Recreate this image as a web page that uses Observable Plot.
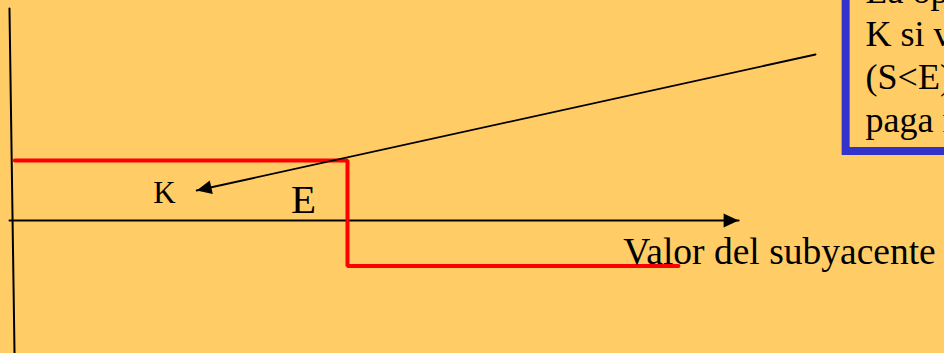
<!DOCTYPE html>
<html><head><meta charset="utf-8">
<script src="https://cdn.jsdelivr.net/npm/d3@7"></script>
<script src="https://cdn.jsdelivr.net/npm/@observablehq/plot@0.6"></script>
<style>
html,body{margin:0;padding:0;background:#FFCC66;overflow:hidden}
svg{display:block;overflow:hidden}
</style>
</head><body><div id="chart"></div>
<script>
// Underlying value (strike E = 100) and payoff level (K = 60 units)
const payoffS = [1, 100, 100, 198.5];
const payoffV = [60, 60, -45.5, -45.5];
// Axes (underlying axis and payoff axis)
const xAxisS = [-0.6, 216.4];
const xAxisV = [0, 0];
const yAxisS = [-0.6, 0.9];
const yAxisV = [212, -133];
// Callout arrow from the note to K
const calloutS = [239.3, 55.1];
const calloutV = [166, 30];
// Labels
const labelText = ["K", "E"];
const labelS = [45.5, 86.9];
const labelV = [18, 8];
const axisTitle = ["Valor del subyacente"];
const axisTitleS = [182.1];
const axisTitleV = [-43];
// Note box
const noteLines = ["La opción paga", "K si vence dentro", "(S<E) y no", "paga nada"];
const noteLineV = [218, 175, 132, 89];
const noteBoxS = [248.4, 300];
const noteBoxV = [69, 240];
const noteS = 254.2;

const headMarker = (color) => {
  const m = d3.create("svg:marker")
    .attr("viewBox", "-16 -8 17 16")
    .attr("markerUnits", "userSpaceOnUse")
    .attr("markerWidth", 17).attr("markerHeight", 16)
    .attr("orient", "auto")
    .attr("fill", color).attr("stroke", "none");
  m.append("path").attr("d", "M0,0L-15,-7L-15,7Z");
  return m.node();
};

const serif = "Liberation Serif, Times New Roman, serif";

const plot = Plot.plot({
  width: 944,
  height: 353,
  margin: 0,
  x: {domain: [-11 / 3.36, 933 / 3.36], range: [0, 944], axis: null},
  y: {domain: [-133, 220], range: [353, 0], axis: null},
  style: {background: "#FFCC66", fontFamily: serif},
  marks: [
    Plot.rect([0], {x1: noteBoxS[0], x2: noteBoxS[1], y1: noteBoxV[0], y2: noteBoxV[1], fill: "none", stroke: "#3333CC", strokeWidth: 8}),
    Plot.text(noteLines, {x: noteS, y: noteLineV, text: noteLines, textAnchor: "start", lineAnchor: "bottom", fontSize: 36, fill: "black", fontFamily: serif}),
    Plot.line(yAxisS, {x: yAxisS, y: yAxisV, stroke: "black", strokeWidth: 2}),
    Plot.line(xAxisS, {x: xAxisS, y: xAxisV, stroke: "black", strokeWidth: 2, markerEnd: headMarker}),
    Plot.line(payoffS, {x: payoffS, y: payoffV, stroke: "#FF0000", strokeWidth: 4, curve: "linear", strokeLinejoin: "miter"}),
    Plot.line(calloutS, {x: calloutS, y: calloutV, stroke: "black", strokeWidth: 1.8, markerEnd: headMarker}),
    Plot.text(labelText, {x: labelS, y: labelV, text: labelText, textAnchor: "middle", lineAnchor: "bottom", fontSize: (d) => d === "K" ? 31 : 41, fill: "black", fontFamily: serif}),
    Plot.text(axisTitle, {x: axisTitleS, y: axisTitleV, text: axisTitle, textAnchor: "start", lineAnchor: "bottom", fontSize: 37.5, fill: "black", fontFamily: serif})
  ]
});
document.getElementById("chart").appendChild(plot);
</script>
</body></html>
